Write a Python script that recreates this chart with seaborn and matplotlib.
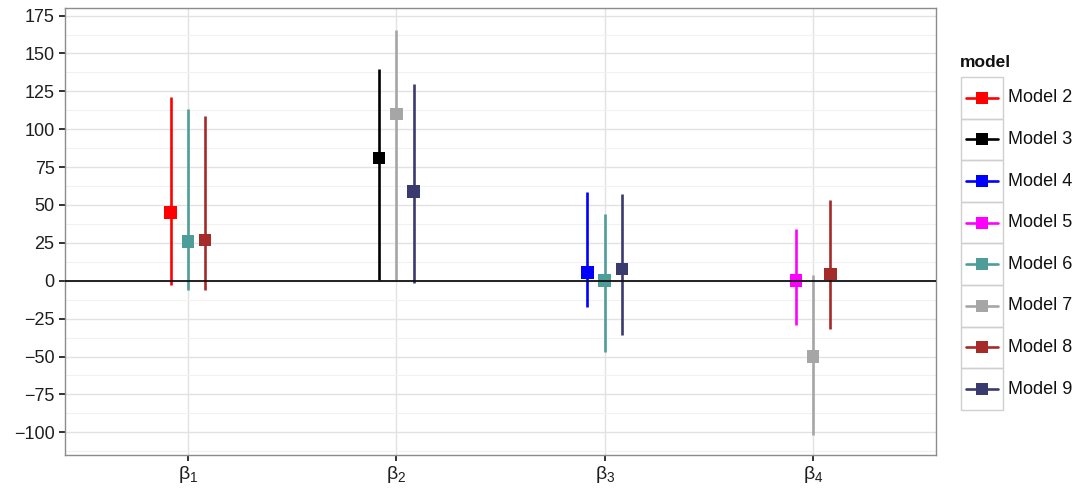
import numpy as np
import pandas as pd
import matplotlib
matplotlib.use("Agg")
import matplotlib.pyplot as plt
from matplotlib.patches import Rectangle
from matplotlib.lines import Line2D
import seaborn as sns

# Coefficient estimates with interval bounds per model
categories = ["β1", "β2", "β3", "β4"]
tick_labels = [r"$\beta_1$", r"$\beta_2$", r"$\beta_3$", r"$\beta_4$"]
models = ["Model 2", "Model 3", "Model 4", "Model 5",
          "Model 6", "Model 7", "Model 8", "Model 9"]
colors = ["#FF0000", "#000000", "#0000FF", "#FF00FF",
          "#4F9D98", "#A6A6A6", "#A52A2A", "#3A3A6E"]

row_category = ["β1", "β1", "β1", "β2", "β2", "β2",
                "β3", "β3", "β3", "β4", "β4", "β4"]
row_model = ["Model 2", "Model 6", "Model 8", "Model 3", "Model 7", "Model 9",
             "Model 4", "Model 6", "Model 9", "Model 5", "Model 7", "Model 8"]
estimate = [45, 26, 27, 81, 110, 59, 5.5, 0.2, 7.7, 0.3, -50, 4.5]
lower = [-3, -6, -6, 0.5, 0.5, -1.5, -17, -47, -36, -29.5, -101.5, -32]
upper = [121, 113.5, 109, 139.5, 165.5, 130, 58.5, 44, 57, 34, 3.5, 53]

df = pd.DataFrame({"category": row_category, "model": row_model,
                   "estimate": estimate, "lower": lower, "upper": upper})

# Dodge positions within each category
dodge_width = 0.25
df["cat_idx"] = df["category"].map({c: i + 1 for i, c in enumerate(categories)})
df["rank"] = df.groupby("category").cumcount()
df["n"] = df.groupby("category")["model"].transform("count")
df["xpos"] = df["cat_idx"] + (df["rank"] - (df["n"] - 1) / 2) * dodge_width / df["n"]

palette = dict(zip(models, colors))

sns.set_theme(style="white")
plt.rcParams["font.family"] = ["Liberation Sans", "DejaVu Sans"]
plt.rcParams["mathtext.fontset"] = "custom"
plt.rcParams["mathtext.rm"] = "Liberation Sans"
plt.rcParams["mathtext.it"] = "Liberation Sans"

fig = plt.figure(figsize=(10.79, 4.91), dpi=100)
ax = fig.add_axes([0.0602, 0.0733, 0.8073, 0.9104])

# Grid
ax.set_ylim(-115, 180)
ax.set_xlim(0.41, 4.59)
ax.set_yticks(np.arange(-100, 176, 25))
ax.set_yticks(np.arange(-112.5, 180, 12.5), minor=True)
ax.set_xticks(range(1, len(categories) + 1))
ax.set_xticklabels(tick_labels)
ax.grid(True, which="major", color="#E2E2E2", lw=1.0, zorder=0)
ax.grid(True, which="minor", axis="y", color="#F1F1F1", lw=0.8, zorder=0)
ax.set_axisbelow(True)

# Interval lines
for _, r in df.iterrows():
    ax.vlines(r["xpos"], r["lower"], r["upper"], color=palette[r["model"]],
              lw=1.9, zorder=2)

sns.scatterplot(data=df, x="xpos", y="estimate", hue="model", hue_order=models,
                palette=palette, marker="s", s=80, edgecolor="none",
                legend=False, ax=ax, zorder=3)

ax.axhline(0, color="#111111", lw=1.3, zorder=4)

ax.set_xlabel("")
ax.set_ylabel("")
for s in ax.spines.values():
    s.set_color("#8C8C8C")
    s.set_linewidth(1.0)
ax.tick_params(axis="both", which="major", length=4.5, width=1.4, color="#333333",
               labelsize=13, labelcolor="#1E1E1E", left=True, bottom=True, pad=3)
ax.tick_params(axis="both", which="minor", length=0)
ax.tick_params(axis="x", labelsize=14, pad=2)

# Legend with boxed keys
lax = fig.add_axes([0, 0, 1, 1], facecolor="none")
lax.set_xlim(0, 1079)
lax.set_ylim(491, 0)
lax.axis("off")
lax.text(960, 62, "model", fontsize=12.5, fontweight="bold", va="center",
         ha="left", color="#111111")
key_top, key_h, key_x0, key_w = 77, 41.6, 960.5, 42.5
for i, (m, c) in enumerate(zip(models, colors)):
    y0 = key_top + i * key_h
    lax.add_patch(Rectangle((key_x0, y0), key_w, key_h, fill=False,
                            edgecolor="#D0D0D0", lw=1.0))
    yc = y0 + key_h / 2
    lax.add_line(Line2D([key_x0 + 5, key_x0 + key_w - 5], [yc, yc], color=c,
                        lw=1.9, marker="", zorder=3))
    lax.add_line(Line2D([key_x0 + key_w / 2], [yc], color=c, marker="s",
                        markersize=9, markeredgewidth=0, lw=0, zorder=4))
    lax.text(1008, yc, m, fontsize=13, va="center", ha="left", color="#111111")

fig.savefig("out.png", dpi=100)
